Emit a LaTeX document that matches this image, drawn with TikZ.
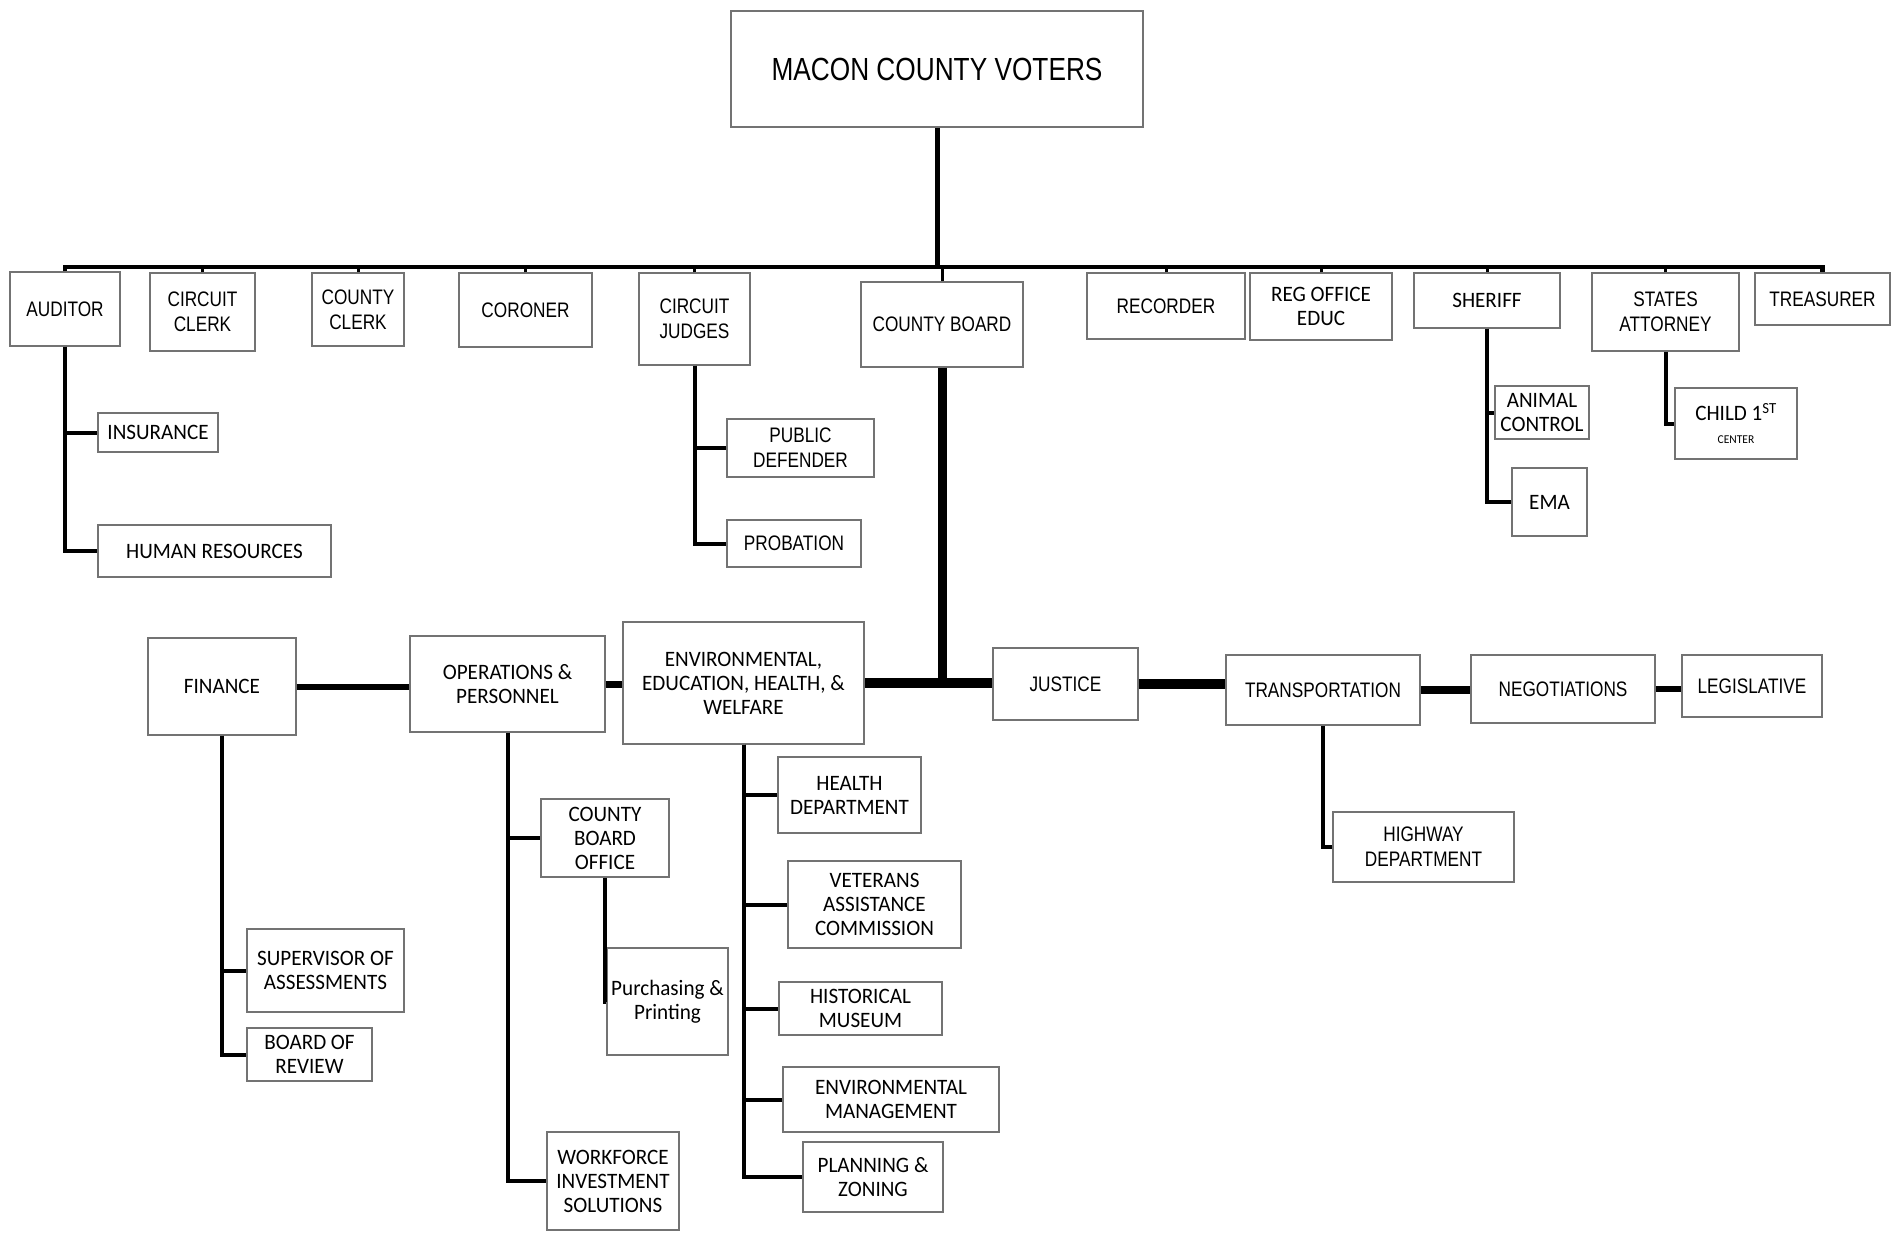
\documentclass[tikz,border=0pt]{standalone}
\usepackage{fontspec}
\setmainfont{Carlito}[FakeStretch=0.96]
\newfontfamily\narrowfont{Liberation Sans}[FakeStretch=0.82]
\newfontfamily\voterfont{Liberation Sans}[FakeStretch=0.82]
\begin{document}
\begin{tikzpicture}[x=1pt,y=-1pt,
  box/.style={draw=black!55, line width=1.3pt, fill=white, inner sep=0pt, align=center,
    font=\fontsize{22}{24}\selectfont},
  nbox/.style={box, font=\narrowfont\fontsize{21}{25}\selectfont},
  sz/.style 2 args={minimum width=#1pt, minimum height=#2pt},
  bus/.style={line width=4.5pt, line join=miter},
  tick/.style={line width=3pt},
  link/.style={line width=4pt, line join=miter}]
\useasboundingbox (0,0) rectangle (1894,1232);

% top
\node[box, sz={412}{116}, font=\voterfont\fontsize{32}{36}\selectfont] (macon) at (937,69) {MACON COUNTY VOTERS};

% top row
\node[nbox, sz={110}{74}] (aud) at (65,309) {AUDITOR};
\node[nbox, sz={105}{78}] (cc) at (202.5,312) {CIRCUIT\\CLERK};
\node[nbox, sz={92}{73}] (coc) at (358,309.5) {COUNTY\\CLERK};
\node[nbox, sz={133}{74}] (cor) at (525.5,310) {CORONER};
\node[nbox, sz={111}{92}] (cj) at (694.5,319) {CIRCUIT\\JUDGES};
\node[nbox, sz={162}{85}] (cb) at (942,324.5) {COUNTY BOARD};
\node[nbox, sz={158}{66}] (rec) at (1166,306) {RECORDER};
\node[box, sz={142}{67}] (reg) at (1321,306.5) {REG OFFICE\\EDUC};
\node[box, sz={146}{55}] (sher) at (1487,300.5) {SHERIFF};
\node[nbox, sz={147}{78}] (sa) at (1665.5,312) {STATES\\ATTORNEY};
\node[nbox, sz={135}{52}] (tre) at (1822.5,299) {TREASURER};

% second level (top)
\node[box, sz={120}{39}] (ins) at (158,432.5) {INSURANCE};
\node[box, sz={233}{52}] (hr) at (214.5,551) {HUMAN RESOURCES};
\node[nbox, sz={147}{58}] (pd) at (800.5,448) {PUBLIC\\DEFENDER};
\node[nbox, sz={134}{47}] (prob) at (794,543.5) {PROBATION};
\node[box, sz={94}{53}] (ac) at (1542,412.5) {ANIMAL\\CONTROL};
\node[box, sz={75}{68}] (ema) at (1549.5,502) {EMA};
\node[box, sz={122}{71}] (child) at (1736,423.5) {CHILD 1\textsuperscript{ST}\\[-1pt]{\fontsize{12}{12}\selectfont CENTER}};

% committees row
\node[box, sz={148}{97}] (fin) at (222,686.5) {FINANCE};
\node[box, sz={195}{96}] (ops) at (507.5,684) {OPERATIONS \&\\PERSONNEL};
\node[box, sz={241}{122}] (env) at (743.5,683) {ENVIRONMENTAL,\\EDUCATION, HEALTH, \&\\WELFARE};
\node[nbox, sz={145}{72}] (jus) at (1065.5,684) {JUSTICE};
\node[nbox, sz={194}{70}] (tra) at (1323,690) {TRANSPORTATION};
\node[nbox, sz={184}{68}] (neg) at (1563,689) {NEGOTIATIONS};
\node[nbox, sz={140}{62}] (leg) at (1752,686) {LEGISLATIVE};

% lower children
\node[nbox, sz={181}{70}] (hwy) at (1423.5,847) {HIGHWAY\\DEPARTMENT};
\node[box, sz={157}{83}] (sup) at (325.5,970.5) {SUPERVISOR OF\\ASSESSMENTS};
\node[box, sz={125}{53}] (bor) at (309.5,1054.5) {BOARD OF\\REVIEW};
\node[box, sz={128}{78}] (cbo) at (605,838) {COUNTY\\BOARD\\OFFICE};
\node[box, sz={132}{98}] (wis) at (613,1181) {WORKFORCE\\INVESTMENT\\SOLUTIONS};
\node[box, sz={121}{107}] (pp) at (667.5,1001.5) {Purchasing \&\\Printing};
\node[box, sz={143}{76}] (hd) at (849.5,795) {HEALTH\\DEPARTMENT};
\node[box, sz={173}{87}] (vac) at (874.5,904.5) {VETERANS\\ASSISTANCE\\COMMISSION};
\node[box, sz={163}{53}] (hm) at (860.5,1008.5) {HISTORICAL\\MUSEUM};
\node[box, sz={216}{65}] (em) at (891,1099.5) {ENVIRONMENTAL\\MANAGEMENT};
\node[box, sz={140}{70}] (pz) at (873,1177) {PLANNING \&\\ZONING};

% connectors: voters and bus
\coordinate (busy) at (0,267);
\draw[line width=5pt] (macon.south) -- (macon.south |- busy);
\draw[bus] (aud.north) -- (aud.north |- busy) -| (tre.north);
\foreach \n in {cc,coc,cor,cj,cb,rec,reg,sher,sa}
  \draw[tick] (\n.north) -- (\n.north |- busy);

% offices and their units
\draw[link] (aud.south) |- (ins.west);
\draw[link] (aud.south) |- (hr.west);
\draw[link] (cj.south) |- (pd.west);
\draw[link] (cj.south) |- (prob.west);
\draw[link] (sher.south) |- (ac.west);
\draw[link] (sher.south) |- (ema.west);
\draw[link] (sa.south) |- (child.west);

% county board and committees
\draw[line width=9pt] (cb.south) -- (cb.south |- env.east);
\draw[line width=6pt] (fin.east) -- (fin.east -| ops.west);
\draw[line width=7pt] (ops.east) -- (ops.east -| env.west);
\draw[line width=10pt] (env.east) -- (env.east -| jus.west);
\draw[line width=10pt] (jus.east) -- (jus.east -| tra.west);
\draw[line width=8pt] (tra.east) -- (tra.east -| neg.west);
\draw[line width=6pt] (neg.east) -- (neg.east -| leg.west);

% committee departments
\draw[link] (tra.south) |- (hwy.west);
\draw[link] (fin.south) |- (sup.west);
\draw[link] (fin.south) |- (bor.west);
\draw[link] (ops.south) |- (cbo.west);
\draw[link] (ops.south) |- (wis.west);
\draw[link] (cbo.south) |- (pp.west);
\draw[link] (env.south) |- (hd.west);
\draw[link] (env.south) |- (vac.west);
\draw[link] (env.south) |- (hm.west);
\draw[link] (env.south) |- (em.west);
\draw[link] (env.south) |- (pz.west);
\end{tikzpicture}
\end{document}
